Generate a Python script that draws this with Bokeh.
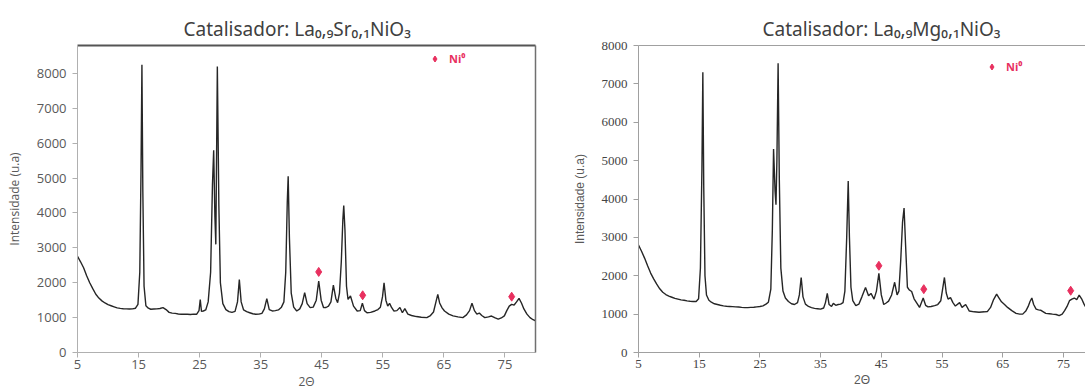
from bokeh.plotting import figure
from bokeh.models import Range1d, LinearAxis, FixedTicker, Legend, LegendItem
from bokeh.layouts import row
from bokeh.embed import file_html
from bokeh.resources import INLINE

# ---------------- data ----------------
x_ticks = [5, 15, 25, 35, 45, 55, 65, 75]
y_ticks = [0, 1000, 2000, 3000, 4000, 5000, 6000, 7000, 8000]

sr_title = "Catalisador: La₀,₉Sr₀,₁NiO₃"
mg_title = "Catalisador: La₀,₉Mg₀,₁NiO₃"
ni_label = "Ni⁰"
x_label = "2Θ"
y_label = "Intensidade (u.a)"

sr_x = [5.0, 5.5, 6.0, 6.5, 7.0, 7.5, 8.0, 8.5, 9.0, 9.5,
        10.0, 10.5, 11.0, 11.5, 12.0, 12.5, 13.0, 13.5, 14.0, 14.5,
        14.9, 15.2, 15.4, 15.55, 15.7, 15.9, 16.2, 16.6, 17.0, 17.5,
        18.0, 18.5, 19.0, 19.5, 20.0, 20.5, 21.0, 21.5, 22.0, 22.5,
        23.0, 23.5, 24.0, 24.5, 24.9, 25.1, 25.3, 25.6, 26.0, 26.4,
        26.8, 27.1, 27.3, 27.5, 27.65, 27.9, 28.15, 28.4, 28.8, 29.3,
        29.8, 30.3, 30.8, 31.2, 31.5, 31.8, 32.2, 32.7, 33.2, 33.7,
        34.2, 34.7, 35.2, 35.6, 36.0, 36.4, 36.9, 37.4, 37.9, 38.4,
        38.8, 39.1, 39.35, 39.5, 39.7, 40.0, 40.4, 40.9, 41.4, 41.8,
        42.2, 42.6, 43.1, 43.6, 44.1, 44.5, 44.9, 45.3, 45.7, 46.1,
        46.5, 46.9, 47.3, 47.6, 47.9, 48.2, 48.45, 48.6, 48.8, 49.05,
        49.3, 49.7, 50.2, 50.8, 51.3, 51.65, 52.0, 52.4, 53.0, 53.7,
        54.2, 54.6, 54.95, 55.2, 55.5, 55.8, 56.1, 56.4, 56.8, 57.3,
        57.8, 58.2, 58.6, 59.1, 59.7, 60.5, 61.3, 62.2, 62.8, 63.3,
        63.7, 64.0, 64.3, 64.7, 65.1, 65.8, 66.5, 67.3, 68.1, 68.7,
        69.2, 69.6, 70.0, 70.4, 70.8, 71.2, 71.7, 72.3, 72.8, 73.4,
        73.9, 74.4, 74.9, 75.3, 75.7, 76.1, 76.5, 76.9, 77.3, 77.7,
        78.1, 78.6, 79.1, 79.6, 80.0]
sr_y = [2760, 2600, 2430, 2200, 2000, 1830, 1670, 1560, 1480, 1420,
        1370, 1340, 1310, 1280, 1265, 1255, 1250, 1245, 1250, 1270,
        1380, 2300, 5200, 8250, 4600, 1900, 1340, 1270, 1240, 1245,
        1250, 1260, 1285, 1230, 1150, 1130, 1120, 1105, 1095, 1100,
        1095, 1090, 1100, 1095, 1200, 1520, 1180, 1190, 1220, 1450,
        2300, 4800, 5800, 3900, 3100, 8200, 4200, 2000, 1400, 1230,
        1170, 1150, 1180, 1450, 2090, 1450, 1220, 1170, 1140, 1110,
        1095, 1100, 1120, 1250, 1545, 1230, 1190, 1200, 1220, 1300,
        1450, 2300, 4300, 5050, 3300, 1700, 1300, 1190, 1250, 1400,
        1715, 1400, 1285, 1300, 1500, 2050, 1500, 1285, 1290, 1330,
        1450, 1930, 1550, 1430, 1700, 2600, 3800, 4210, 3500, 1900,
        1520, 1620, 1330, 1190, 1200, 1410, 1200, 1140, 1150, 1190,
        1230, 1300, 1600, 2000, 1500, 1330, 1410, 1300, 1190, 1200,
        1290, 1140, 1260, 1100, 1060, 1030, 1010, 1000, 1060, 1160,
        1450, 1665, 1420, 1280, 1190, 1100, 1050, 1020, 1000, 1080,
        1200, 1410, 1200, 1100, 1130, 1060, 1000, 1020, 1045, 990,
        955, 990, 1050, 1200, 1330, 1380, 1360, 1450, 1550, 1420,
        1250, 1100, 1000, 940, 910]

mg_x = [5.0, 5.5, 6.0, 6.5, 7.0, 7.5, 8.0, 8.5, 9.0, 9.5,
        10.0, 10.5, 11.0, 11.5, 12.0, 12.5, 13.0, 13.5, 14.0, 14.5,
        14.9, 15.2, 15.45, 15.6, 15.75, 15.95, 16.2, 16.6, 17.0, 17.5,
        18.0, 18.5, 19.0, 19.5, 20.0, 20.5, 21.0, 21.5, 22.0, 22.5,
        23.0, 23.5, 24.0, 24.5, 25.0, 25.5, 26.0, 26.4, 26.8, 27.05,
        27.25, 27.5, 27.65, 27.8, 28.0, 28.2, 28.45, 28.8, 29.2, 29.7,
        30.2, 30.7, 31.2, 31.5, 31.8, 32.1, 32.5, 33.0, 33.5, 34.0,
        34.5, 35.0, 35.5, 35.8, 36.1, 36.4, 36.8, 37.1, 37.5, 37.9,
        38.3, 38.7, 39.0, 39.3, 39.55, 39.75, 40.0, 40.3, 40.8, 41.3,
        41.8, 42.4, 42.9, 43.3, 43.8, 44.2, 44.6, 45.0, 45.4, 45.8,
        46.2, 46.7, 47.2, 47.6, 47.9, 48.2, 48.5, 48.75, 49.0, 49.3,
        49.6, 50.0, 50.4, 50.8, 51.3, 51.9, 52.3, 52.7, 53.2, 53.8,
        54.3, 54.8, 55.1, 55.4, 55.7, 56.0, 56.4, 56.8, 57.2, 57.9,
        58.3, 58.9, 59.5, 60.3, 61.1, 62.0, 62.5, 63.0, 63.5, 64.0,
        64.4, 64.8, 65.3, 65.8, 66.5, 67.2, 67.8, 68.3, 68.8, 69.2,
        69.5, 69.8, 70.1, 70.5, 70.9, 71.3, 71.7, 72.1, 72.7, 73.2,
        73.8, 74.3, 74.8, 75.2, 75.6, 76.0, 76.4, 76.8, 77.2, 77.6,
        78.0, 78.4, 78.8]
mg_y = [2800, 2640, 2460, 2260, 2070, 1920, 1780, 1660, 1570, 1510,
        1470, 1440, 1410, 1390, 1370, 1360, 1345, 1335, 1330, 1330,
        1400, 2200, 4800, 7300, 4300, 2000, 1500, 1360, 1310, 1270,
        1250, 1230, 1215, 1205, 1200, 1195, 1190, 1185, 1175, 1170,
        1170, 1175, 1180, 1190, 1200, 1215, 1260, 1310, 1650, 3200,
        5300, 4200, 3850, 5000, 7540, 4500, 2200, 1600, 1420, 1330,
        1270, 1250, 1300, 1500, 1955, 1450, 1260, 1200, 1170, 1150,
        1140, 1130, 1160, 1300, 1540, 1250, 1200, 1280, 1230, 1250,
        1260, 1300, 1600, 3000, 4470, 3000, 1700, 1350, 1220, 1260,
        1450, 1695, 1480, 1540, 1390, 1600, 2060, 1500, 1250, 1290,
        1340, 1500, 1830, 1500, 1600, 2400, 3400, 3765, 2800, 1700,
        1630, 1590, 1400, 1300, 1175, 1420, 1230, 1190, 1200, 1220,
        1250, 1350, 1650, 1955, 1550, 1390, 1430, 1300, 1210, 1300,
        1175, 1250, 1080, 1060, 1050, 1060, 1070, 1175, 1380, 1520,
        1420, 1320, 1250, 1175, 1090, 1020, 1000, 1000, 1080, 1200,
        1330, 1420, 1250, 1130, 1110, 1100, 1060, 1020, 1010, 1000,
        990, 960, 1000, 1090, 1200, 1350, 1390, 1420, 1380, 1495,
        1400, 1260, 1150]

sr_ni_x = [44.5, 51.7, 76.1]
sr_ni_y = [2310, 1640, 1600]
mg_ni_x = [44.6, 52.0, 76.2]
mg_ni_y = [2260, 1650, 1610]

PINK = "#E8305F"
LINE = "#262626"


def build(xs, ys, nx, ny, title, width, mb_left, mb_right, mb_top, mb_bottom, x_end, y_end,
          tick_font, tick_size, tick_color, axis_color, label_font,
          title_offset, legend_loc, top_color, top_width, right_border,
          ylabel_standoff, xlabel_standoff):
    p = figure(width=width, height=392, x_range=Range1d(5, x_end), y_range=Range1d(0, y_end),
               output_backend="svg", toolbar_location=None,
               min_border_left=mb_left, min_border_right=mb_right,
               min_border_top=mb_top, min_border_bottom=mb_bottom,
               outline_line_color=None, background_fill_color="white",
               border_fill_color="white")
    p.xgrid.visible = False
    p.ygrid.visible = False

    p.title.text = title
    p.title.align = "left"
    p.title.offset = title_offset
    p.title.standoff = 8
    p.title.text_font = "Noto Sans"
    p.title.text_font_size = "19px"
    p.title.text_font_style = "normal"
    p.title.text_color = "#404040"

    for ax, ticks in ((p.xaxis[0], x_ticks), (p.yaxis[0], y_ticks)):
        ax.ticker = FixedTicker(ticks=ticks)
        ax.axis_line_color = axis_color
        ax.axis_line_width = 1
        ax.major_tick_line_color = axis_color
        ax.major_tick_in = 0
        ax.major_tick_out = 5
        ax.minor_tick_line_color = None
        ax.major_label_text_font = tick_font
        ax.major_label_text_font_size = tick_size
        ax.major_label_text_color = tick_color
        ax.axis_label_text_font = label_font
        ax.axis_label_text_font_size = "12px"
        ax.axis_label_text_font_style = "normal"
        ax.axis_label_text_color = "#595959"
    p.xaxis[0].major_label_standoff = 2
    p.xaxis[0].axis_label = x_label
    p.xaxis[0].axis_label_standoff = xlabel_standoff
    p.yaxis[0].major_label_standoff = 6
    p.yaxis[0].axis_label = y_label
    p.yaxis[0].axis_label_standoff = ylabel_standoff

    top = LinearAxis(ticker=FixedTicker(ticks=[]), axis_line_color=top_color,
                     axis_line_width=top_width, major_tick_line_color=None,
                     minor_tick_line_color=None)
    p.add_layout(top, "above")
    if right_border:
        rgt = LinearAxis(ticker=FixedTicker(ticks=[]),
                         axis_line_color="#707070", axis_line_width=1.5,
                         major_tick_line_color=None, minor_tick_line_color=None)
        p.add_layout(rgt, "right")

    p.line(xs, ys, line_color=LINE, line_width=1.4)
    r = p.scatter(nx, ny, marker="diamond", size=9, fill_color=PINK, line_color=PINK)

    legend = Legend(items=[LegendItem(label=ni_label, renderers=[r])], location=legend_loc,
                    padding=0, margin=0, spacing=0, border_line_color=None,
                    background_fill_alpha=0, glyph_width=15, glyph_height=15,
                    label_height=15, label_standoff=7,
                    label_text_font="Open Sans", label_text_font_style="bold",
                    label_text_font_size="11px", label_text_color=PINK)
    p.add_layout(legend)
    return p


p1 = build(sr_x, sr_y, sr_ni_x, sr_ni_y, sr_title, 565, 77, 30, 45, 39, 80, 8800,
           "Open Sans", "13px", "#595959", "#b0b0b0", "Open Sans",
           106, (350, 286), "#555555", 2, True, 11, 1)
p2 = build(mg_x, mg_y, mg_ni_x, mg_ni_y, mg_title, 520, 73, 0, 45, 40, 78.64, 8000,
           "Liberation Serif", "13px", "#444444", "#a0a0a0", "Liberation Sans",
           124, (346, 278), "#a0a0a0", 1, False, 12, 2)

layout = row(p1, p2)
open("out.html", "w").write(file_html(layout, INLINE))
